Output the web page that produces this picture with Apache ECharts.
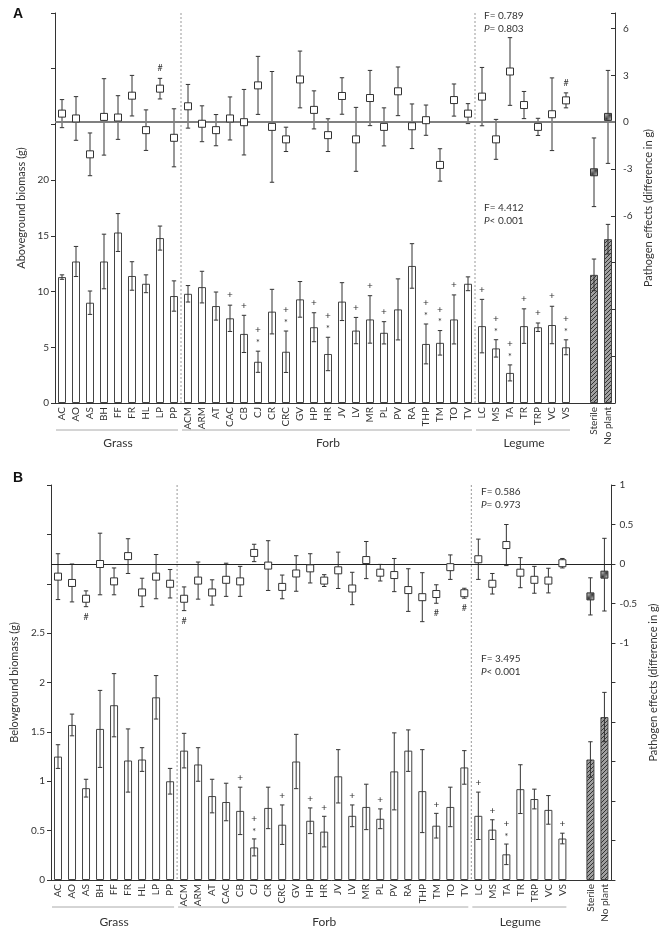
<!DOCTYPE html>
<html>
<head>
<meta charset="utf-8">
<script src="https://cdn.jsdelivr.net/npm/echarts@6/dist/echarts.min.js"></script>
<style>
  html, body { margin: 0; padding: 0; background: #fff; }
  #main { width: 667px; height: 930px; }
</style>
</head>
<body>
<div id="main"></div>
<script>
// species codes; '' is the spacer before the controls
var categories = ['AC','AO','AS','BH','FF','FR','HL','LP','PP',
  'ACM','ARM','AT','CAC','CB','CJ','CR','CRC','GV','HP','HR','JV','LV','MR','PL','PV','RA','THP','TM','TO','TV',
  'LC','MS','TA','TR','TRP','VC','VS','','Sterile','No plant'];
var groups = [['Grass', 0, 8], ['Forb', 9, 29], ['Legume', 30, 36]];
var hatched = [38, 39];

// panel A - aboveground
var aboveMean = [11.3,12.7,9.0,12.7,15.3,11.4,10.7,14.8,9.6,
  9.8,10.4,8.7,7.6,6.2,3.7,8.2,4.6,9.3,6.8,4.4,9.1,6.5,7.5,6.3,8.4,12.3,5.3,5.4,7.5,10.7,
  6.9,4.9,2.7,6.9,6.8,7.0,5.0, null, 11.5,14.7];
var aboveErr = [0.2,1.35,1.05,2.45,1.7,1.28,0.8,1.08,1.36,
  0.74,1.42,1.26,1.18,1.67,0.95,2.0,1.86,1.6,1.3,1.5,1.7,1.18,2.13,1.0,2.74,2.0,1.79,1.1,2.2,0.62,
  2.4,0.78,0.72,1.55,0.38,1.68,0.67, null, 1.42,1.33];
var aboveEff = [0.55,0.24,-2.06,0.34,0.3,1.7,-0.51,2.15,-1.0,
  1.02,-0.1,-0.51,0.24,0.0,2.36,-0.3,-1.1,2.74,0.79,-0.83,1.68,-1.1,1.55,-0.3,1.98,-0.26,0.13,-2.74,1.42,0.55,
  1.64,-1.1,3.25,1.1,-0.3,0.51,1.4, null, -3.21,0.34];
var aboveEffErr = [0.9,1.4,1.37,2.45,1.4,1.3,1.3,0.66,1.86,
  1.4,1.15,1.0,1.38,2.1,1.86,3.55,0.78,1.82,1.22,1.05,1.17,2.05,1.77,1.22,1.56,1.43,0.97,1.04,1.03,0.64,
  1.87,1.28,2.17,0.87,0.55,2.33,0.48, null, 2.2,2.98];
var aboveSig = ['','','','','','','','','',
  '','','','+','+','+*','','+*','','+','+*','','+','+','+','','','+*','+*','+','',
  '+','+*','+*','+','+','+','+*','','',''];
var aboveHash = [7, 36];

// panel B - belowground
var belowMean = [1.25,1.57,0.93,1.53,1.77,1.21,1.22,1.85,1.0,
  1.31,1.17,0.85,0.79,0.70,0.33,0.73,0.56,1.20,0.60,0.49,1.05,0.65,0.74,0.62,1.10,1.31,0.90,0.55,0.74,1.14,
  0.65,0.51,0.26,0.92,0.82,0.71,0.42, null, 1.22,1.65];
var belowErr = [0.12,0.11,0.09,0.39,0.32,0.32,0.12,0.22,0.13,
  0.175,0.17,0.17,0.19,0.24,0.086,0.21,0.2,0.275,0.13,0.155,0.27,0.11,0.23,0.1,0.39,0.21,0.42,0.125,0.2,0.17,
  0.24,0.1,0.104,0.247,0.1,0.145,0.054, null, 0.18,0.25];
var belowEff = [-0.16,-0.24,-0.44,0.0,-0.22,0.1,-0.36,-0.16,-0.25,
  -0.44,-0.21,-0.36,-0.2,-0.22,0.14,-0.02,-0.29,-0.12,-0.055,-0.21,-0.08,-0.31,0.05,-0.11,-0.14,-0.33,-0.42,-0.38,-0.04,-0.37,
  0.06,-0.25,0.24,-0.11,-0.2,-0.21,0.01, null, -0.41,-0.135];
var belowEffErr = [0.29,0.24,0.1,0.39,0.17,0.22,0.18,0.28,0.18,
  0.15,0.235,0.16,0.21,0.19,0.11,0.315,0.15,0.225,0.185,0.075,0.23,0.205,0.235,0.105,0.21,0.27,0.31,0.117,0.155,0.063,
  0.255,0.13,0.26,0.19,0.17,0.156,0.06, null, 0.235,0.46];
var belowSig = ['','','','','','','','','',
  '','','','','+','+*','','+','','+','+','','+','','+','','','','+','','',
  '+','+','+*','','','','+','','',''];
var belowHash = [2, 9, 27, 29];

var FONT = 'Lato, "Open Sans", sans-serif';

function makeHatch() {
  var c = document.createElement('canvas');
  c.width = 4; c.height = 4;
  var ctx = c.getContext('2d');
  ctx.fillStyle = '#a0a0a0';
  ctx.fillRect(0, 0, 4, 4);
  ctx.strokeStyle = '#333';
  ctx.lineWidth = 1;
  ctx.beginPath();
  ctx.moveTo(-1, 5); ctx.lineTo(5, -1);
  ctx.moveTo(-1, 1); ctx.lineTo(1, -1);
  ctx.moveTo(3, 5); ctx.lineTo(5, 3);
  ctx.stroke();
  return c;
}
var hatch = { image: makeHatch(), repeat: 'repeat' };

function errRender(color) {
  return function (params, api) {
    var x = api.value(0);
    var p1 = api.coord([x, api.value(2)]);
    var p2 = api.coord([x, api.value(1)]);
    var w = 2.2;
    var st = { stroke: color, lineWidth: 1 };
    return { type: 'group', children: [
      { type: 'line', shape: { x1: p1[0], y1: p1[1], x2: p2[0], y2: p2[1] }, style: st },
      { type: 'line', shape: { x1: p1[0] - w, y1: p1[1], x2: p1[0] + w, y2: p1[1] }, style: st },
      { type: 'line', shape: { x1: p2[0] - w, y1: p2[1], x2: p2[0] + w, y2: p2[1] }, style: st }
    ] };
  };
}

function errData(mean, err) {
  var out = [];
  mean.forEach(function (v, i) {
    if (v != null) out.push([i, v - err[i], v + err[i]]);
  });
  return out;
}

function panel(g, cfg) {
  var yl = g * 2, yr = g * 2 + 1;
  var xAxis = {
    gridIndex: g, type: 'category', data: categories,
    axisTick: { show: false },
    axisLine: { lineStyle: { color: '#333', width: 1 } },
    axisLabel: { rotate: 90, interval: 0, fontSize: 10, color: '#333', margin: 4, fontFamily: FONT }
  };
  var yAxes = [{
    gridIndex: g, type: 'value', position: 'left',
    min: cfg.left[0], max: cfg.left[1], interval: cfg.left[2],
    name: cfg.leftName, nameLocation: 'middle', nameGap: cfg.leftGap, nameRotate: 90,
    nameTextStyle: { fontSize: 11, color: '#333', fontFamily: FONT },
    axisLine: { show: true, lineStyle: { color: '#333' } },
    axisTick: { show: true, length: 4, lineStyle: { color: '#333' } },
    splitLine: { show: false },
    axisLabel: { fontSize: 10, color: '#333', fontFamily: FONT, margin: 6,
      formatter: function (v) { return v <= cfg.left[3] ? String(v) : ''; } }
  }, {
    gridIndex: g, type: 'value', position: 'right',
    min: cfg.right[0], max: cfg.right[1], interval: cfg.right[2],
    name: 'Pathogen effects (difference in g)', nameLocation: 'middle', nameGap: cfg.rightGap, nameRotate: 90,
    nameTextStyle: { fontSize: 11, color: '#333', fontFamily: FONT },
    axisLine: { show: true, lineStyle: { color: '#333' } },
    axisTick: { show: true, inside: cfg.rightInside, length: 4, lineStyle: { color: '#333' } },
    splitLine: { show: false },
    axisLabel: { fontSize: 10, color: '#333', fontFamily: FONT, margin: 8,
      formatter: function (v) { return (v >= cfg.right[3] && v <= cfg.right[4]) ? String(v) : ''; } }
  }];

  var barData = cfg.mean.map(function (v, i) {
    if (v == null) return null;
    return hatched.indexOf(i) >= 0 ? { value: v, itemStyle: { color: hatch } } : v;
  });
  var effData = [];
  cfg.eff.forEach(function (v, i) {
    if (v == null) return;
    effData.push(hatched.indexOf(i) >= 0
      ? { value: [i, v], itemStyle: { color: hatch } }
      : { value: [i, v] });
  });
  var barErr = errData(cfg.mean, cfg.err);
  var effErr = errData(cfg.eff, cfg.effErr);

  var sigData = [], sigText = [];
  cfg.sig.forEach(function (s, i) {
    if (s) { sigData.push([i, cfg.mean[i] + cfg.err[i]]); sigText.push(s); }
  });
  var hashData = cfg.hash.map(function (i) {
    return [i, cfg.hashBelow ? cfg.eff[i] - cfg.effErr[i] : cfg.eff[i] + cfg.effErr[i]];
  });

  var series = [
    { type: 'bar', xAxisIndex: g, yAxisIndex: yl, barWidth: 8, data: barData, z: 2,
      itemStyle: { color: '#fff', borderColor: '#444', borderWidth: 1 } },
    { type: 'custom', xAxisIndex: g, yAxisIndex: yl, data: barErr, z: 3,
      encode: { x: 0, y: [1, 2] }, renderItem: errRender('#333') },
    { type: 'custom', xAxisIndex: g, yAxisIndex: yl, data: sigData, z: 3,
      encode: { x: 0, y: 1 },
      renderItem: function (params, api) {
        var p = api.coord([api.value(0), api.value(1)]);
        var s = sigText[params.dataIndex];
        var kids = [];
        var off = cfg.sigGap;
        if (s.indexOf('*') >= 0) {
          kids.push({ type: 'text', x: p[0], y: p[1] - off + 2,
            style: { text: '*', fontSize: 9, fill: '#333', align: 'center', verticalAlign: 'middle', fontFamily: FONT } });
          off += 11;
        }
        kids.push({ type: 'text', x: p[0], y: p[1] - off,
          style: { text: '+', fontSize: 10, fill: '#333', align: 'center', verticalAlign: 'middle', fontFamily: FONT } });
        return { type: 'group', children: kids };
      } },
    { type: 'custom', xAxisIndex: g, yAxisIndex: yr, data: effErr, z: 4,
      encode: { x: 0, y: [1, 2] }, renderItem: errRender('#333') },
    { type: 'scatter', xAxisIndex: g, yAxisIndex: yr, symbol: 'rect', symbolSize: 7, z: 5,
      data: effData,
      itemStyle: { color: '#fff', borderColor: '#333', borderWidth: 1, opacity: 1 },
      markLine: { silent: true, symbol: 'none', label: { show: false },
        lineStyle: { color: cfg.zeroColor, width: cfg.zeroWidth, type: 'solid' },
        data: [{ yAxis: 0 }] } },
    { type: 'custom', xAxisIndex: g, yAxisIndex: yr, data: hashData, z: 5,
      encode: { x: 0, y: 1 },
      renderItem: function (params, api) {
        var p = api.coord([api.value(0), api.value(1)]);
        return { type: 'text', x: p[0], y: p[1] + (cfg.hashBelow ? 10 : -10),
          style: { text: '#', fontSize: 9, fill: '#333', align: 'center', verticalAlign: 'middle', fontFamily: FONT } };
      } },
    { type: 'custom', xAxisIndex: g, yAxisIndex: yl, z: 1,
      data: groups.map(function (gr) { return [gr[1], gr[2]]; }),
      encode: { x: [0, 1] },
      renderItem: function (params, api) {
        var cs = params.coordSys;
        var gi = params.dataIndex;
        var a = api.coord([api.value(0), 0]);
        var b = api.coord([api.value(1), 0]);
        var bottom = cs.y + cs.height;
        var kids = [
          { type: 'line', shape: { x1: a[0] - 6, y1: bottom + 27, x2: b[0] + 4, y2: bottom + 27 },
            style: { stroke: '#aaa', lineWidth: 1 } },
          { type: 'text', x: (a[0] + b[0]) / 2, y: bottom + cfg.groupGap,
            style: { text: groups[gi][0], fontSize: 12, fill: '#333', align: 'center', verticalAlign: 'middle', fontFamily: FONT } }
        ];
        if (gi < groups.length - 1) {
          var n = api.coord([api.value(1) + 1, 0]);
          var xd = (b[0] + n[0]) / 2;
          kids.push({ type: 'line', shape: { x1: xd, y1: cs.y, x2: xd, y2: bottom },
            style: { stroke: '#999', lineWidth: 1, lineDash: [2, 2] } });
        }
        return { type: 'group', children: kids };
      } }
  ];
  return { xAxis: xAxis, yAxes: yAxes, series: series };
}

var pA = panel(0, {
  mean: aboveMean, err: aboveErr, eff: aboveEff, effErr: aboveEffErr, sig: aboveSig,
  hash: aboveHash, hashBelow: false,
  left: [0, 35, 5, 20], right: [-18, 7, 3, -6, 6],
  leftName: 'Aboveground biomass (g)', leftGap: 22, rightGap: 26, rightInside: true,
  zeroColor: '#808080', zeroWidth: 2, sigGap: 10, groupGap: 40
});
var pB = panel(1, {
  mean: belowMean, err: belowErr, eff: belowEff, effErr: belowEffErr, sig: belowSig,
  hash: belowHash, hashBelow: true,
  left: [0, 4, 0.5, 2.5], right: [-4, 1, 0.5, -1, 1],
  leftName: 'Belowground biomass (g)', leftGap: 24, rightGap: 28, rightInside: false,
  zeroColor: '#222', zeroWidth: 1.2, sigGap: 9, groupGap: 42
});

function statText(x, y, f, p, op) {
  return { type: 'text', left: x, top: y,
    style: { text: 'F= ' + f + '\n{i|P}' + op + ' ' + p, fontSize: 10, lineHeight: 12.5, fill: '#333', fontFamily: FONT,
      rich: { i: { fontStyle: 'italic', fontSize: 10, fill: '#333', fontFamily: FONT } } } };
}

var myChart = echarts.init(document.getElementById('main'));
var option = {
  backgroundColor: '#fff',
  animation: false,
  textStyle: { fontFamily: FONT },
  grid: [
    { left: 55, right: 52, top: 13, height: 390 },
    { left: 51, right: 55, top: 485, height: 395 }
  ],
  xAxis: [pA.xAxis, pB.xAxis],
  yAxis: pA.yAxes.concat(pB.yAxes),
  series: pA.series.concat(pB.series),
  graphic: [
    { type: 'text', left: 13, top: 7, style: { text: 'A', fontSize: 14, fontWeight: 'bold', fill: '#111', fontFamily: 'Arial, "Liberation Sans", sans-serif' } },
    { type: 'text', left: 13, top: 471, style: { text: 'B', fontSize: 14, fontWeight: 'bold', fill: '#111', fontFamily: 'Arial, "Liberation Sans", sans-serif' } },
    statText(484, 10, '0.789', '0.803', '='),
    statText(484, 202, '4.412', '0.001', '<'),
    statText(481, 486, '0.586', '0.973', '='),
    statText(481, 653, '3.495', '0.001', '<')
  ]
};
myChart.setOption(option);
window.addEventListener('resize', function () { myChart.resize(); });
</script>
</body>
</html>
